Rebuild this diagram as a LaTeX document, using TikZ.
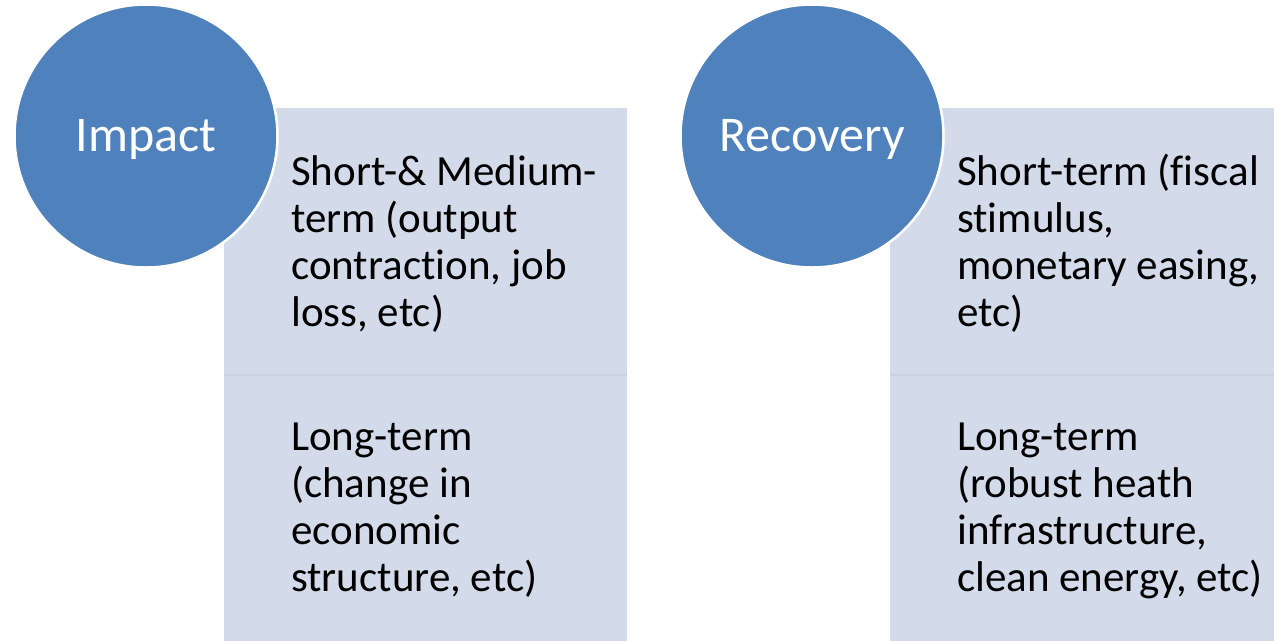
\documentclass[tikz,border=0pt]{standalone}
\usepackage{fontspec}
\setmainfont{Carlito}[RawFeature={-liga}]
\begin{document}
\begin{tikzpicture}[x=1pt,y=-1pt,
  disc/.style={circle,fill=discfill,draw=white,line width=2.5pt,inner sep=0pt,minimum size=263pt},
  disctext/.style={anchor=base,text=white,font=\fontsize{50}{55}\selectfont,inner sep=0pt},
  % multi-line nodes: the base anchor sits on the last line
  bodytext/.style={anchor=base west,align=left,inner sep=0pt,font=\fontsize{43}{47}\selectfont}
]
\definecolor{panelfill}{HTML}{D3DAE9}
\definecolor{panelline}{HTML}{C9D1E3}
\definecolor{discfill}{HTML}{4F81BD}
\useasboundingbox[fill=white] (0,0) rectangle (1274,641);

% left column: panels
\fill[panelfill] (224,108) rectangle (627,375) coordinate (lu);
\fill[panelfill] (224,375) rectangle (627,641) coordinate (ll);
\draw[panelline,line width=1.5pt] (224,375) -- (627,375);
% right column: panels
\fill[panelfill] (890,108) rectangle (1274,375) coordinate (ru);
\fill[panelfill] (890,375) rectangle (1274,641) coordinate (rl);
\draw[panelline,line width=1.5pt] (890,375) -- (1274,375);

% texts in the panels
\node[bodytext] (t1) at (291,326) {Short-\& Medium-\\term (output\\contraction, job\\loss, etc)};
\node[bodytext] (t2) at (291,591) {Long-term\\(change in\\economic\\structure, etc)};
\node[bodytext] (t3) at (957,326) {Short-term (fiscal\\stimulus,\\monetary easing,\\etc)};
\node[bodytext] (t4) at (957,591) {Long-term\\(robust heath\\infrastructure,\\clean energy, etc)};

% headline discs
\node[disc] (impact) at (146,136) {};
\node[disctext] (impactlabel) at (146,151) {Impact};
\node[disc] (recovery) at (812,136) {};
\node[disctext] (recoverylabel) at (812,151) {Recovery};
\end{tikzpicture}
\end{document}
